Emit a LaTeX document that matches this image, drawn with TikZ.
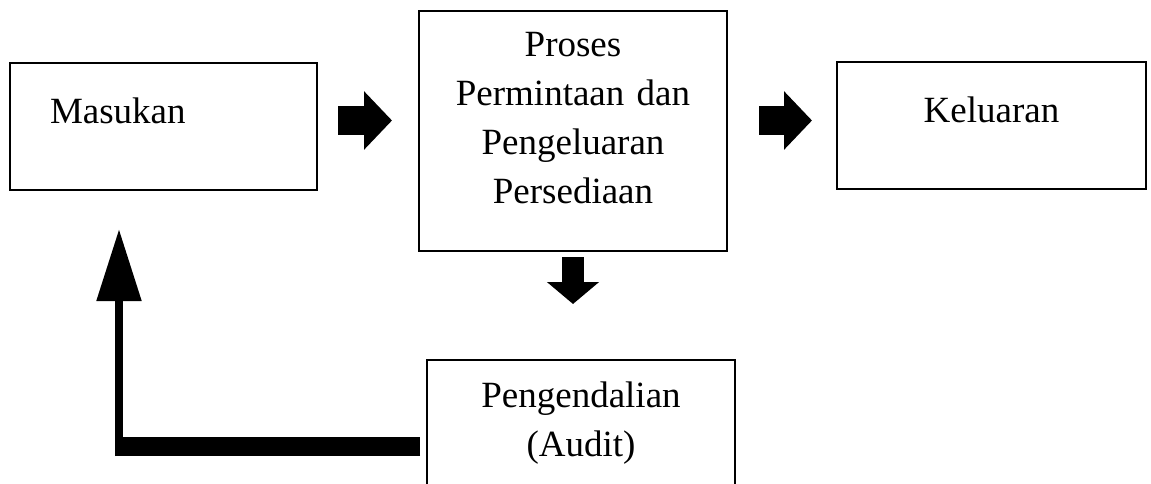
\documentclass[tikz,border=0pt]{standalone}
\usepackage{fontspec}
\setmainfont{Liberation Serif}
\usetikzlibrary{arrows.meta}

\begin{document}
\begin{tikzpicture}[x=1pt, y=-1pt,
    box/.style={draw, line width=2pt, rectangle, inner ysep=0pt, font=\fontsize{37}{49}\selectfont},
    blockr/.style={line width=29pt, -{Triangle[length=28pt, width=57pt]}},
    blockd/.style={line width=22pt, -{Triangle[length=22pt, width=51pt]}}]
  \useasboundingbox (0,0) rectangle (1151,484);
  \node[box, text width=227pt, inner xsep=40pt, align=left, text height=61pt, text depth=66pt] (masukan) at (163.5,126.5) {Masukan};
  \node[box, text width=288pt, inner xsep=10pt, align=center, text height=46pt, text depth=194pt] (proses) at (573,131) {Proses\\ Permintaan dan\\ Pengeluaran\\ Persediaan};
  \node[box, minimum width=309pt, text height=61pt, text depth=66pt] (keluaran) at (991.5,125.5) {Keluaran};
  \node[box, text width=288pt, inner xsep=10pt, align=center, text height=47pt, text depth=113pt] (audit) at (581,440) {Pengendalian\\ (Audit)};
  \coordinate (a1s) at (338,120.5); \coordinate (a1e) at (392,120.5);
  \coordinate (a2s) at (759,120.5); \coordinate (a2e) at (812,120.5);
  \coordinate (a3s) at (573,257); \coordinate (a3e) at (573,304);
  \draw[blockr] (a1s) -- (a1e);
  \draw[blockr] (a2s) -- (a2e);
  \draw[blockd] (a3s) -- (a3e);
  \coordinate (fb1) at (420,446.5); \coordinate (fb2) at (115,446.5);
  \coordinate (fb3) at (119,456); \coordinate (fb4) at (119,229);
  \draw[line width=19pt] (fb1) -- (fb2);
  \draw[line width=8.5pt, -{Triangle[length=72pt, width=43pt]}] (fb3) -- (fb4);
\end{tikzpicture}
\end{document}
